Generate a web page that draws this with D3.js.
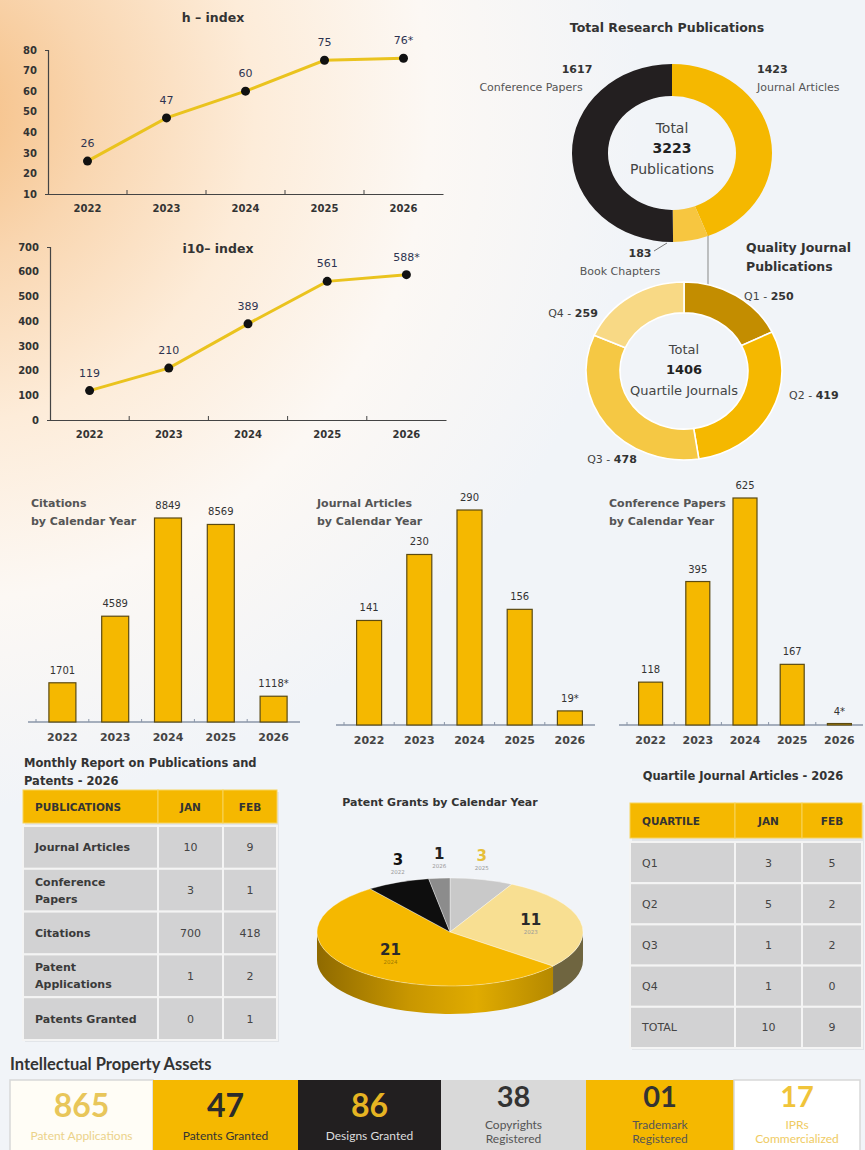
<!DOCTYPE html>
<html><head><meta charset="utf-8">
<script src="https://cdn.jsdelivr.net/npm/d3@7"></script>
<style>
html,body{margin:0;padding:0;}
body{width:865px;height:1150px;overflow:hidden;}
svg{display:block;font-family:"DejaVu Sans",Verdana,sans-serif;}
</style></head><body>
<svg id="chart" width="865" height="1150"></svg>
<script>
// ---------------- DATA ----------------
const years = ["2022","2023","2024","2025","2026"];
const hIndexValues = [26,47,60,75,76];
const hIndexLabels = ["26","47","60","75","76*"];
const hIndexTicks = [10,20,30,40,50,60,70,80];
const i10Values = [119,210,389,561,588];
const i10Labels = ["119","210","389","561","588*"];
const i10Ticks = [0,100,200,300,400,500,600,700];

const pubCategories = ["Journal Articles","Book Chapters","Conference Papers"];
const pubValues = [1423,183,1617];
const pubTotal = "3223";

const quartiles = ["Q1","Q2","Q3","Q4"];
const quartileValues = [250,419,478,259];
const quartileTotal = "1406";

const citations = [1701,4589,8849,8569,1118];
const citationLabels = ["1701","4589","8849","8569","1118*"];
const journalArticles = [141,230,290,156,19];
const journalLabels = ["141","230","290","156","19*"];
const conferencePapers = [118,395,625,167,4];
const conferenceLabels = ["118","395","625","167","4*"];

const monthlyHeader = ["PUBLICATIONS","JAN","FEB"];
const monthlyRows = [["Journal Articles"],["Conference","Papers"],["Citations"],["Patent","Applications"],["Patents Granted"]];
const monthlyJan = [10,3,700,1,0];
const monthlyFeb = [9,1,418,2,1];

const quartileHeader = ["QUARTILE","JAN","FEB"];
const quartileRows = ["Q1","Q2","Q3","Q4","TOTAL"];
const quartileJan = [3,5,1,1,10];
const quartileFeb = [5,2,2,0,9];

const patentYears = ["2025","2023","2024","2022","2026"];
const patentGrants = [3,11,21,3,1];

const ipValues = ["865","47","86","38","01","17"];
const ipLabels = [["Patent Applications"],["Patents Granted"],["Designs Granted"],["Copyrights","Registered"],["Trademark","Registered"],["IPRs","Commercialized"]];

// ---------------- STYLE ----------------
const GOLD = "#f5b800";
const svg = d3.select("#chart");
const defs = svg.append("defs");

const bg = defs.append("radialGradient").attr("id","bg").attr("gradientUnits","userSpaceOnUse")
  .attr("cx",-60).attr("cy",110).attr("r",700);
[["0","#f5bd80"],["0.22","#f9d6b0"],["0.45","#fdecd9"],["0.7","#fcf8f4"],["1","#f1f4f8"]]
  .forEach(([o,c])=>bg.append("stop").attr("offset",o).attr("stop-color",c));
svg.append("rect").attr("width",865).attr("height",1150).attr("fill","url(#bg)");

// ---------------- LINE CHARTS ----------------
function lineChart(o){
  const g = svg.append("g");
  const x = d3.scaleBand().domain(years).range([o.x0,o.x1]);
  const y = d3.scaleLinear().domain(d3.extent(o.ticks)).range([o.yb,o.yt]);
  g.append("text").attr("x",o.tx).attr("y",o.ty).attr("text-anchor","middle")
    .attr("font-size",12.5).attr("font-weight",700).attr("fill","#333").text(o.title);
  const ya = g.append("g").attr("transform",`translate(${o.x0},0)`)
    .call(d3.axisLeft(y).tickValues(o.ticks).tickSizeInner(0).tickSizeOuter(3).tickPadding(11));
  ya.select(".domain").attr("stroke","#444").attr("stroke-width",1.2);
  ya.selectAll("text").attr("font-size",10).attr("font-weight",700).attr("fill","#333").attr("font-family","DejaVu Sans");
  const xa = g.append("g").attr("transform",`translate(0,${o.yb})`)
    .call(d3.axisBottom(x).tickSize(0).tickPadding(11));
  xa.select(".domain").attr("stroke","#444").attr("stroke-width",1.2);
  xa.selectAll("text").attr("font-size",10).attr("font-weight",700).attr("fill","#333").attr("font-family","DejaVu Sans");
  g.selectAll(".bt").data(years.slice(1)).join("line")
    .attr("x1",d=>x(d)).attr("x2",d=>x(d)).attr("y1",o.yb).attr("y2",o.yb-4)
    .attr("stroke","#444").attr("stroke-width",1);
  const pts = years.map((d,i)=>({year:d,v:o.values[i],lab:o.labels[i]}));
  const cx = d=>x(d.year)+x.bandwidth()/2;
  g.append("path").datum(pts).attr("fill","none").attr("stroke","#eac31e").attr("stroke-width",3)
    .attr("d",d3.line().x(cx).y(d=>y(d.v)));
  g.selectAll("circle").data(pts).join("circle").attr("cx",cx).attr("cy",d=>y(d.v)).attr("r",4.5).attr("fill","#111");
  g.selectAll(".vl").data(pts).join("text").attr("x",cx).attr("y",d=>y(d.v)-14)
    .attr("text-anchor","middle").attr("font-size",11).attr("fill","#2d3350").text(d=>d.lab);
}
lineChart({x0:48,x1:443,yt:50,yb:194,ticks:hIndexTicks,values:hIndexValues,labels:hIndexLabels,title:"h – index",tx:213,ty:22});
lineChart({x0:50,x1:446,yt:247,yb:420,ticks:i10Ticks,values:i10Values,labels:i10Labels,title:"i10– index",tx:218,ty:253});

// ---------------- DONUTS ----------------
function donut(o){
  const g = svg.append("g").attr("transform",`translate(${o.cx},${o.cy}) scale(1,${o.ry/o.rx})`);
  const arcs = d3.pie().sort(null).value(d=>d)(o.values);
  const arc = d3.arc().innerRadius(o.ri).outerRadius(o.rx);
  g.selectAll("path").data(arcs).join("path").attr("d",arc).attr("fill",(d,i)=>o.colors[i])
    .attr("stroke","#fff").attr("stroke-width",o.sw).attr("vector-effect","non-scaling-stroke");
  const t = svg.append("g").attr("font-size",o.fs).attr("fill","#444").attr("text-anchor","middle");
  o.center.forEach((s,i)=>t.append("text").attr("x",o.cx).attr("y",o.cy+o.cdy+(i-1)*20.5)
    .attr("font-weight",i===1?700:400).attr("fill",i===1?"#222":"#444").text(s));
}
svg.append("text").attr("x",667).attr("y",32).attr("text-anchor","middle").attr("font-size",12.5)
  .attr("font-weight",700).attr("fill","#333").text("Total Research Publications");
svg.append("line").attr("x1",708).attr("x2",708).attr("y1",232).attr("y2",286).attr("stroke","#9a9a9a").attr("stroke-width",1.2);
donut({cx:672,cy:153,rx:100,ry:89,ri:64,values:pubValues,colors:[GOLD,"#f7c640","#231f20"],sw:0,
  center:["Total",pubTotal,"Publications"],fs:14,cdy:0});
donut({cx:684,cy:371,rx:98,ry:89,ri:64,values:quartileValues,colors:["#c38d00",GOLD,"#f5c844","#f8d985"],sw:1.6,
  center:["Total",quartileTotal,"Quartile Journals"],fs:13,cdy:3});

// donut 1 labels
const lab = (x,y,anchor,txt,bold)=>svg.append("text").attr("x",x).attr("y",y).attr("text-anchor",anchor)
  .attr("font-size",11).attr("font-weight",bold?700:400).attr("fill",bold?"#333":"#555").text(txt);
lab(577,73,"middle",String(pubValues[2]),true);
lab(531,91,"middle",pubCategories[2],false);
lab(757,73,"start",String(pubValues[0]),true);
lab(757,91,"start",pubCategories[0],false);
lab(640,257,"middle",String(pubValues[1]),true);
lab(620,275,"middle",pubCategories[1],false);
svg.append("line").attr("x1",654).attr("y1",251).attr("x2",667).attr("y2",243).attr("stroke","#777").attr("stroke-width",1);
svg.append("text").attr("x",746).attr("y",252).attr("font-size",12.5).attr("font-weight",700).attr("fill","#333").text("Quality Journal");
svg.append("text").attr("x",746).attr("y",271).attr("font-size",12.5).attr("font-weight",700).attr("fill","#333").text("Publications");
// donut 2 labels
const qlab = (x,y,anchor,i)=>{
  const t = svg.append("text").attr("x",x).attr("y",y).attr("text-anchor",anchor).attr("font-size",11).attr("fill","#444");
  t.append("tspan").text(quartiles[i]+" - ");
  t.append("tspan").attr("font-weight",700).attr("fill","#333").text(quartileValues[i]);
};
qlab(744,300,"start",0); qlab(789,399,"start",1); qlab(612,463,"middle",2); qlab(573,317,"middle",3);

// ---------------- BAR CHARTS ----------------
function barChart(o){
  const g = svg.append("g");
  const x = d3.scaleBand().domain(years).range([o.x0,o.x1]);
  const y = d3.scaleLinear().domain([0,d3.max(o.values)]).range([o.base,o.top]);
  const data = years.map((d,i)=>({year:d,v:o.values[i],lab:o.labels[i]}));
  g.append("line").attr("x1",o.x0-8).attr("x2",o.x1).attr("y1",o.base).attr("y2",o.base).attr("stroke","#8a96a8").attr("stroke-width",1.3);
  g.selectAll(".bt").data(years).join("line").attr("x1",d=>x(d)).attr("x2",d=>x(d))
    .attr("y1",o.base).attr("y2",o.base-3).attr("stroke","#8a96a8");
  g.selectAll("rect").data(data).join("rect")
    .attr("x",d=>x(d.year)+(x.bandwidth()-o.bw)/2).attr("y",d=>y(d.v))
    .attr("width",o.bw).attr("height",d=>o.base-y(d.v))
    .attr("fill",GOLD).attr("stroke","#5b4a12").attr("stroke-width",1.2);
  g.selectAll(".vl").data(data).join("text").attr("x",d=>x(d.year)+x.bandwidth()/2).attr("y",d=>y(d.v)-9)
    .attr("text-anchor","middle").attr("font-size",10).attr("fill","#333").text(d=>d.lab);
  g.selectAll(".yl").data(data).join("text").attr("x",d=>x(d.year)+x.bandwidth()/2).attr("y",o.base+19)
    .attr("text-anchor","middle").attr("font-size",11).attr("font-weight",700).attr("fill","#444").text(d=>d.year);
  o.title.forEach((s,i)=>g.append("text").attr("x",o.tx).attr("y",507+i*18).attr("font-size",11)
    .attr("font-weight",700).attr("fill","#555").text(s));
}
barChart({x0:36,x1:300,base:722,top:518,bw:27,values:citations,labels:citationLabels,title:["Citations","by Calendar Year"],tx:31});
barChart({x0:344,x1:595,base:725,top:510,bw:25,values:journalArticles,labels:journalLabels,title:["Journal Articles","by Calendar Year"],tx:317});
barChart({x0:627,x1:863,base:725,top:498,bw:24,values:conferencePapers,labels:conferenceLabels,title:["Conference Papers","by Calendar Year"],tx:609});

// ---------------- TABLES ----------------
function table(o){
  const g = svg.append("g");
  const cols = o.cols;
  g.append("rect").attr("x",cols[0]+2).attr("y",o.hy0+2).attr("width",cols[3]-cols[0]).attr("height",o.ry1-o.hy0)
    .attr("fill","#000").attr("opacity",0.06);
  for(let c=0;c<3;c++){
    g.append("rect").attr("x",cols[c]).attr("y",o.hy0).attr("width",cols[c+1]-cols[c]).attr("height",o.hy1-o.hy0)
      .attr("fill",GOLD).attr("stroke","#f7d35a").attr("stroke-width",1);
    g.append("text").attr("x",c===0?cols[0]+12:(cols[c]+cols[c+1])/2).attr("y",(o.hy0+o.hy1)/2+4)
      .attr("text-anchor",c===0?"start":"middle").attr("font-size",10.5).attr("font-weight",700).attr("fill","#333").text(o.header[c]);
  }
  const rh = (o.ry1-o.ry0)/o.rows.length;
  o.rows.forEach((r,i)=>{
    const y0 = o.ry0+i*rh;
    for(let c=0;c<3;c++){
      g.append("rect").attr("x",cols[c]).attr("y",y0).attr("width",cols[c+1]-cols[c]).attr("height",rh)
        .attr("fill","#d2d2d3").attr("stroke","#f4f4f4").attr("stroke-width",2);
    }
    const lines = Array.isArray(r)?r:[r];
    lines.forEach((s,k)=>g.append("text").attr("x",cols[0]+12).attr("y",y0+rh/2+4+(k-(lines.length-1)/2)*17)
      .attr("font-size",o.labSize).attr("font-weight",o.labWeight).attr("fill",o.labColor).text(s));
    [o.jan[i],o.feb[i]].forEach((v,k)=>g.append("text").attr("x",(cols[k+1]+cols[k+2])/2).attr("y",y0+rh/2+4)
      .attr("text-anchor","middle").attr("font-size",11).attr("fill","#444").text(v));
  });
}
svg.append("text").attr("x",24).attr("y",767).attr("font-size",11.5).attr("font-weight",700).attr("fill","#333").text("Monthly Report on Publications and");
svg.append("text").attr("x",24).attr("y",785).attr("font-size",11.5).attr("font-weight",700).attr("fill","#333").text("Patents - 2026");
table({cols:[23,158,223,277],hy0:790,hy1:823,ry0:826,ry1:1040,header:monthlyHeader,rows:monthlyRows,jan:monthlyJan,feb:monthlyFeb,labColor:"#3a3a3a",labSize:11,labWeight:700});
svg.append("text").attr("x",743).attr("y",780).attr("text-anchor","middle").attr("font-size",11.5).attr("font-weight",700).attr("fill","#333").text("Quartile Journal Articles - 2026");
table({cols:[630,735,802,862],hy0:803,hy1:838,ry0:842,ry1:1048,header:quartileHeader,rows:quartileRows,jan:quartileJan,feb:quartileFeb,labColor:"#444",labSize:11,labWeight:400});

// ---------------- 3D PIE ----------------
svg.append("text").attr("x",440).attr("y",806).attr("text-anchor","middle").attr("font-size",11).attr("font-weight",700).attr("fill","#333").text("Patent Grants by Calendar Year");
const pc = {cx:450,cy:932,rx:133,ry:54,depth:28};
const sideGrad = defs.append("linearGradient").attr("id","side24").attr("gradientUnits","userSpaceOnUse")
  .attr("x1",pc.cx-pc.rx).attr("x2",pc.cx+pc.rx).attr("y1",0).attr("y2",0);
[["0","#8f6a00"],["0.35","#c99700"],["0.6","#e0ab00"],["1","#a57c00"]].forEach(([o,c])=>sideGrad.append("stop").attr("offset",o).attr("stop-color",c));
const topColors = {"2025":"#c9c9c9","2023":"#f8df92","2024":"#f5b800","2022":"#0e0e0e","2026":"#8c8c8c"};
const sideColors = {"2025":"#8d8d8d","2023":"#6f6540","2024":"url(#side24)","2022":"#000","2026":"#555"};
const labColors = {"2025":"#e6bf3a","2023":"#2a2a2a","2024":"#2a2a2a","2022":"#111","2026":"#222"};
const pArcs = d3.pie().sort(null).value(d=>d)(patentGrants);
const P = (a,dy=0)=>[pc.cx+pc.rx*Math.sin(a), pc.cy-pc.ry*Math.cos(a)+dy];
const pg = svg.append("g");
pArcs.forEach((d,i)=>{
  const s0 = Math.max(d.startAngle,Math.PI/2), s1 = Math.min(d.endAngle,3*Math.PI/2);
  if(s1<=s0) return;
  const a=P(s0), b=P(s1), a2=P(s0,pc.depth), b2=P(s1,pc.depth);
  pg.append("path").attr("d",`M${a}A${pc.rx},${pc.ry} 0 0 1 ${b}L${b2}A${pc.rx},${pc.ry} 0 0 0 ${a2}Z`)
    .attr("fill",sideColors[patentYears[i]]);
});
pArcs.forEach((d,i)=>{
  const large = d.endAngle-d.startAngle>Math.PI?1:0;
  pg.append("path").attr("d",`M${pc.cx},${pc.cy}L${P(d.startAngle)}A${pc.rx},${pc.ry} 0 ${large} 1 ${P(d.endAngle)}Z`)
    .attr("fill",topColors[patentYears[i]]).attr("stroke","#fff").attr("stroke-width",0.6).attr("stroke-opacity",0.6);
});
pArcs.forEach((d,i)=>{
  const m = (d.startAngle+d.endAngle)/2;
  const big = patentGrants[i] > 5;
  const px = pc.cx + pc.rx*Math.sin(m)*(big?0.62:1.0);
  const py = pc.cy - pc.ry*Math.cos(m)*(big?0.62:1.35);
  const yr = patentYears[i];
  pg.append("text").attr("x",px).attr("y",py).attr("text-anchor","middle").attr("font-size",15).attr("font-weight",700)
    .attr("fill",labColors[yr]).text(patentGrants[i]);
  pg.append("text").attr("x",px).attr("y",py+9).attr("text-anchor","middle").attr("font-size",5.5)
    .attr("fill",yr==="2024"?"#a07a00":"#999").text(yr);
});

// ---------------- IP ASSETS ----------------
const ipg = svg.append("g").attr("font-family","Lato, 'Open Sans', sans-serif");
ipg.append("text").attr("x",10).attr("y",1070).attr("font-size",16.5).attr("font-weight",700).attr("fill","#333").text("Intellectual Property Assets");
const ipEdges = [10,153,298,441,586,734,860];
const ipFill = ["#fffdf6",GOLD,"#221f20","#d9d9d9",GOLD,"#ffffff"];
const ipNum = ["#e8c65a","#2b2b2b","#e6b422","#333","#333","#f0c43a"];
const ipLab = ["#ebd28a","#333","#ddd","#555","#555","#efcb63"];
ipValues.forEach((v,i)=>{
  const x0=ipEdges[i], x1=ipEdges[i+1], cx=(x0+x1)/2;
  ipg.append("rect").attr("x",x0).attr("y",1080).attr("width",x1-x0).attr("height",72).attr("fill",ipFill[i])
    .attr("stroke",i===0||i===5?"#d8d8d8":"none").attr("stroke-width",1.5);
  const two = ipLabels[i].length>1;
  ipg.append("text").attr("x",cx).attr("y",two?1107:1117).attr("text-anchor","middle").attr("font-size",two?29:32).attr("font-weight",700)
    .attr("fill",ipNum[i]).text(v);
  ipLabels[i].forEach((s,k)=>ipg.append("text").attr("x",cx).attr("y",(two?1129:1140)+k*14).attr("text-anchor","middle")
    .attr("font-size",12).attr("fill",ipLab[i]).text(s));
});
</script>
</body></html>
